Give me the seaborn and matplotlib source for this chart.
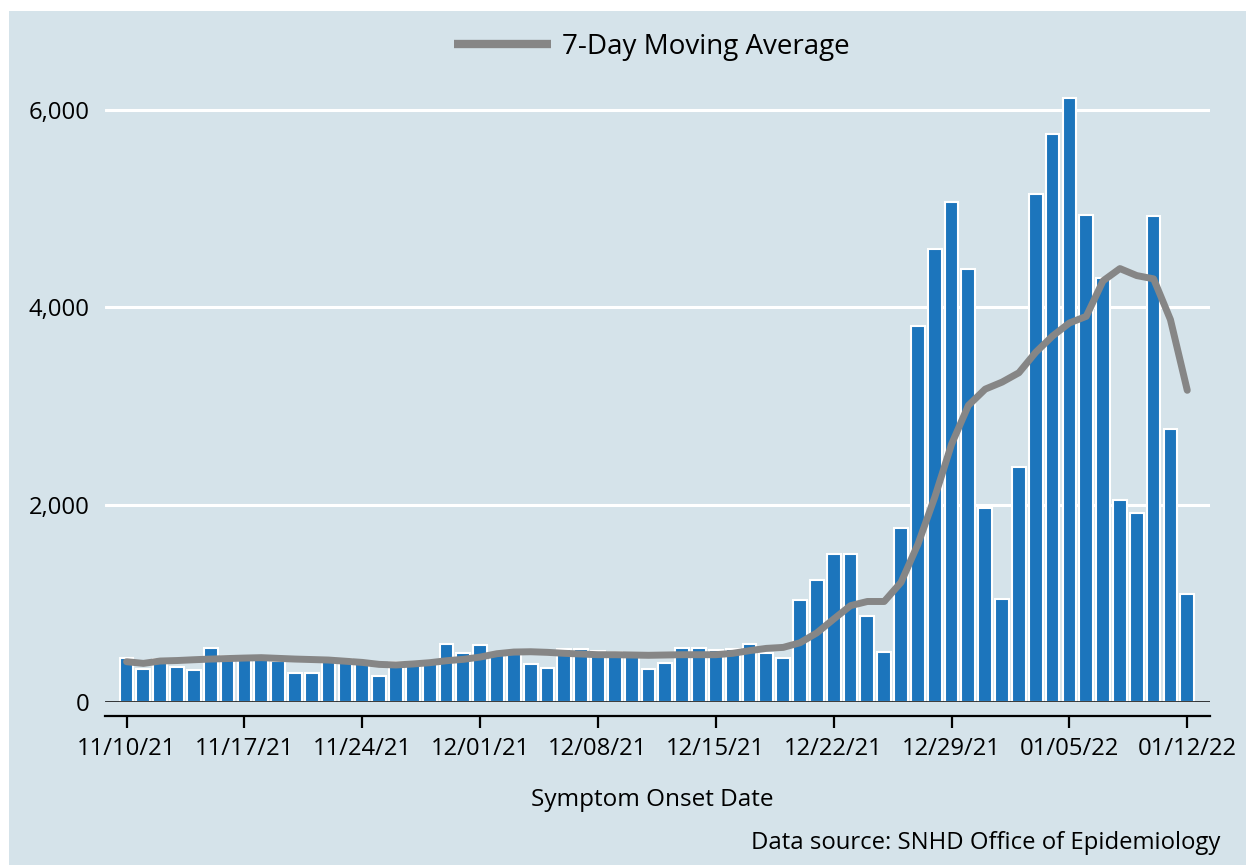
import pandas as pd
import seaborn as sns
import matplotlib.pyplot as plt
from matplotlib.patches import Rectangle

# Daily cases by symptom onset date, 11/10/21 - 01/12/22
dates = pd.date_range('2021-11-10', '2022-01-12', freq='D')
cases = [445, 331, 432, 357, 324, 547, 470, 455, 450, 420,
         290, 290, 445, 432, 405, 266, 405, 378, 400, 584,
         496, 574, 480, 490, 388, 344, 536, 540, 516, 504,
         490, 331, 391, 550, 550, 526, 533, 587, 493, 449,
         1038, 1240, 1502, 1494, 873, 509, 1763, 3810, 4588, 5068,
         4390, 1969, 1047, 2383, 5143, 5755, 6119, 4928, 4295, 2044,
         1916, 4919, 2768, 1096]
moving_avg = [408, 391, 415, 420, 428, 435, 440, 445, 449, 442,
              435, 430, 425, 413, 401, 381, 375, 385, 398, 418,
              432, 455, 489, 506, 509, 503, 493, 486, 479, 479,
              476, 473, 476, 479, 479, 479, 493, 520, 543, 553,
              600, 700, 840, 976, 1018, 1018, 1212, 1597, 2073, 2611,
              3004, 3169, 3240, 3335, 3542, 3707, 3839, 3906, 4266, 4390,
              4319, 4286, 3873, 3157]
y_ticks = [0, 2000, 4000, 6000]

bg = '#d5e3ea'
blue = '#1c75bc'
grey = '#868686'

df = pd.DataFrame({'day': range(len(dates)), 'cases': cases, 'avg': moving_avg})
tick_pos = list(range(0, len(dates), 7))
tick_labels = [dates[i].strftime('%m/%d/%y') for i in tick_pos]

sns.set_theme(style='white')
plt.rcParams['font.family'] = ['Open Sans', 'DejaVu Sans']

fig = plt.figure(figsize=(12.46, 8.65), dpi=100)
fig.patch.set_facecolor('white')
fig.patches.append(Rectangle((9 / 1246, 0), 1, 1 - 11 / 865, transform=fig.transFigure,
                             facecolor=bg, edgecolor='none', zorder=-10))

ax = fig.add_axes([105 / 1246, (865 - 702) / 865, 1105 / 1246, 622 / 865])
ax.set_facecolor(bg)

sns.barplot(data=df, x='day', y='cases', color=blue, width=0.82,
            edgecolor='white', linewidth=1.5, saturation=1, ax=ax, zorder=3)
sns.lineplot(data=df, x='day', y='avg', color=grey, linewidth=5, ax=ax, zorder=4,
             label='7-Day Moving Average', legend=False)

ax.set_xlim(-1.28, 64.35)
ax.set_ylim(0, 6300)
ax.set_yticks(y_ticks)
ax.set_yticklabels([f'{v:,}' for v in y_ticks])
for v in y_ticks[1:]:
    ax.axhline(v, color='white', linewidth=2.2, zorder=1)
ax.axhline(0, color='black', linewidth=1.8, zorder=5)

ax.set_xticks(tick_pos)
ax.set_xticklabels(tick_labels)
ax.set_xlabel('')
ax.set_ylabel('')

for s in ['top', 'right', 'left']:
    ax.spines[s].set_visible(False)
ax.spines['bottom'].set_position(('outward', 10))
ax.spines['bottom'].set_color('black')
ax.spines['bottom'].set_linewidth(1.6)
ax.tick_params(axis='x', direction='out', length=8.5, width=1.6, color='black',
               pad=7, labelsize=17.2, labelcolor='black', bottom=True)
ax.tick_params(axis='y', length=0, pad=11, labelsize=17.2, labelcolor='black')

handles, labels = ax.get_legend_handles_labels()
leg = fig.legend(handles, labels, loc='center', bbox_to_anchor=(652 / 1246, 1 - 47 / 865),
                 frameon=False, fontsize=20, handlelength=3.5, handletextpad=0.4,
                 labelcolor='black')
for h in leg.get_lines():
    h.set_linewidth(6)
    h.set_solid_capstyle('butt')

fig.text(652 / 1246, 1 - 800 / 865, 'Symptom Onset Date', ha='center', va='center',
         fontsize=17.5, color='black')
fig.text(1220 / 1246, 1 - 843 / 865, 'Data source: SNHD Office of Epidemiology',
         ha='right', va='center', fontsize=17.2, color='black')

fig.savefig('out.png', dpi=100, facecolor=fig.get_facecolor())
